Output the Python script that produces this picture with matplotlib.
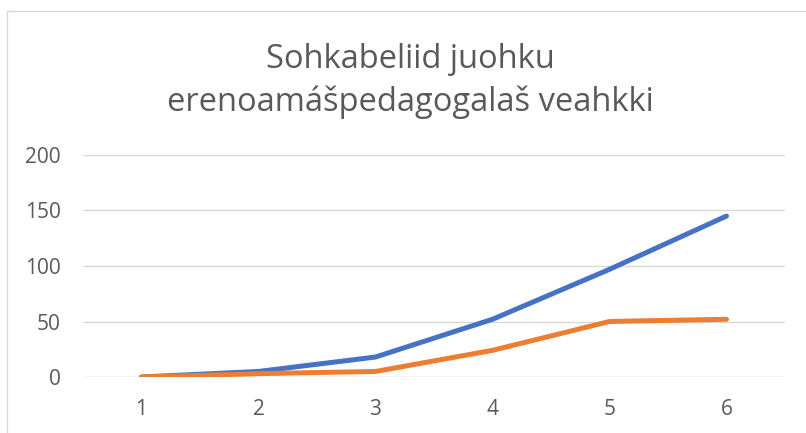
import numpy as np
import matplotlib
matplotlib.use("Agg")
import matplotlib.pyplot as plt
from matplotlib.patches import Rectangle

categories = [1, 2, 3, 4, 5, 6]
series_blue = [0, 5, 18, 52, 97, 145]
series_orange = [0, 3, 5, 24, 50, 52]
yticks = [0, 50, 100, 150, 200]
title = "Sohkabeliid juohku\nerenoamášpedagogalaš veahkki"

plt.rcParams['font.family'] = ['Open Sans', 'DejaVu Sans']
grey = '#595959'

fig = plt.figure(figsize=(8.06, 4.33), dpi=100)
ax = fig.add_axes([83/806, 1 - 377/433, (785 - 83)/806, (377 - 155)/433])

# chart border (partly cropped in the reference)
fig.patches.append(Rectangle((7/806, -0.1), 1.0, 1 - 11/433 + 0.1, transform=fig.transFigure,
                             fill=False, edgecolor='#d9d9d9', linewidth=1.0))

x = np.arange(len(categories))
ax.plot(x, series_blue, color='#4472C4', linewidth=3.6, solid_capstyle='round', zorder=3)
ax.plot(x, series_orange, color='#ED7D31', linewidth=3.6, solid_capstyle='round', zorder=3)

ax.set_xlim(-0.5, len(categories) - 0.5)
ax.set_ylim(0, 200)
ax.set_yticks(yticks)
ax.set_xticks(x)
ax.set_xticklabels([str(c) for c in categories])
ax.grid(axis='y', color='#d9d9d9', linewidth=1.0)
ax.set_axisbelow(True)
for s in ax.spines.values():
    s.set_visible(False)
ax.tick_params(axis='both', length=0, labelsize=15, colors=grey)
ax.tick_params(axis='y', pad=16)
ax.tick_params(axis='x', pad=16)

fig.text(410/806, 1 - 81/433, title, ha='center', va='center', fontsize=23.5,
         color=grey, linespacing=1.38)

fig.savefig("out.png", dpi=100)
